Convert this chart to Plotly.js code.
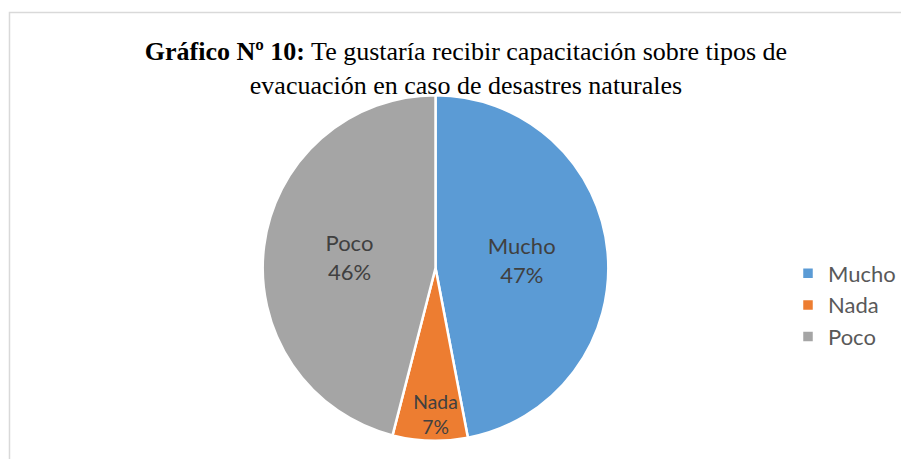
<!DOCTYPE html>
<html>
<head>
<meta charset="utf-8">
<script src="https://cdn.plot.ly/plotly-3.0.1.min.js"></script>
<style>
  html, body { margin: 0; padding: 0; background: #fff; }
  #chart { width: 901px; height: 459px; }
</style>
</head>
<body>
<div id="chart"></div>
<script>
// Respuestas de la encuesta (porcentajes)
const categories = ['Mucho', 'Nada', 'Poco'];
const values = [47, 7, 46];
const sliceColors = ['#5B9BD5', '#ED7D31', '#A5A5A5'];

const W = 901, H = 459;
const cx = 436, cy = 268, r = 173;

const tracePie = {
  type: 'pie',
  labels: categories,
  values: values,
  sort: false,
  direction: 'clockwise',
  rotation: 0,
  marker: {
    colors: sliceColors,
    line: { color: '#FFFFFF', width: 2.5 }
  },
  texttemplate: '%{label}<br>%{percent:.0%}',
  textposition: 'inside',
  insidetextorientation: 'horizontal',
  textfont: { family: 'Lato, "Open Sans", sans-serif', size: 22, color: '#404040' },
  hoverinfo: 'label+percent',
  domain: {
    x: [(cx - r) / W, (cx + r) / W],
    y: [(H - cy - r) / H, (H - cy + r) / H]
  }
};

const layout = {
  width: W,
  height: H,
  paper_bgcolor: '#FFFFFF',
  margin: { t: 0, r: 0, b: 0, l: 0 },
  title: {
    text: '<b>Gráfico Nº 10:</b> Te gustaría recibir capacitación sobre tipos de<br>evacuación en caso de desastres naturales',
    font: { family: '"Liberation Serif", "Times New Roman", serif', size: 26, color: '#000000' },
    x: 466 / W,
    xanchor: 'center',
    y: 1 - 60 / H,
    yanchor: 'top'
  },
  showlegend: true,
  legend: {
    x: 789 / W,
    xanchor: 'left',
    y: 1 - 305 / H,
    yanchor: 'middle',
    font: { family: 'Lato, "Open Sans", sans-serif', size: 22, color: '#595959' },
    itemclick: false,
    itemwidth: 30
  },
  shapes: [{
    type: 'rect',
    xref: 'paper', yref: 'paper',
    x0: 9.5 / W, x1: 1.05,
    y0: -0.05, y1: 1 - 12.5 / H,
    line: { color: '#D9D9D9', width: 1.5 },
    fillcolor: 'rgba(0,0,0,0)',
    layer: 'below'
  }]
};

Plotly.newPlot('chart', [tracePie], layout, { displayModeBar: false, responsive: false });
</script>
</body>
</html>
